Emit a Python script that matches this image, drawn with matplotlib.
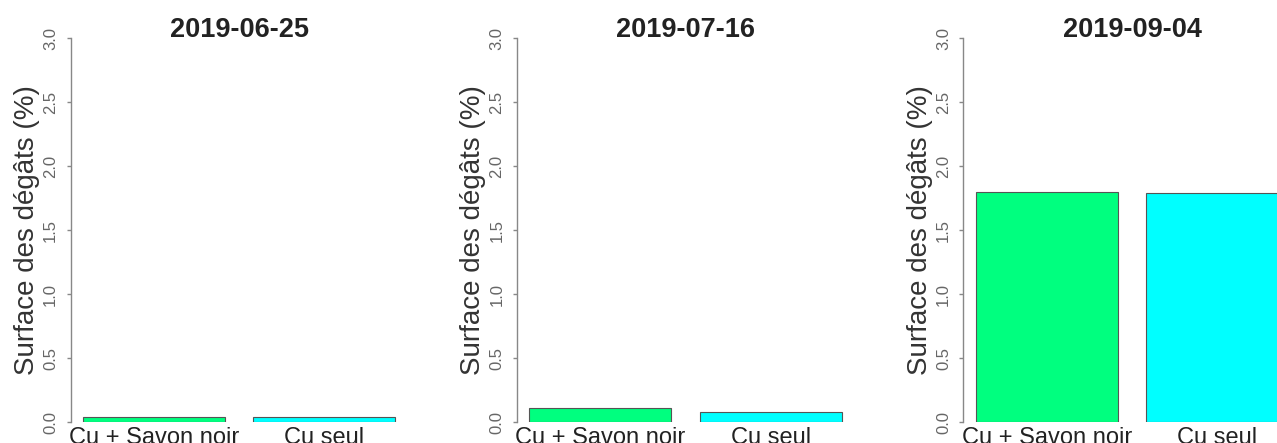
import matplotlib
matplotlib.use("Agg")
import matplotlib.pyplot as plt
import matplotlib.transforms as mtrans

plt.rcParams['font.family'] = ['Liberation Sans', 'DejaVu Sans']

dates = ["2019-06-25", "2019-07-16", "2019-09-04"]
treatments = ["Cu + Savon noir", "Cu seul"]
cu_savon = [0.04, 0.11, 1.80]
cu_seul = [0.04, 0.075, 1.79]
bar_colors = ["#00FF7F", "#00FFFF"]
y_ticks = [0.0, 0.5, 1.0, 1.5, 2.0, 2.5, 3.0]

W, H = 1277, 443
fig = plt.figure(figsize=(W / 100, H / 100), dpi=100)

# R barplot style positions: width 1, space 0.2
x_pos = [0.7, 1.9]

for i, date in enumerate(dates):
    off = 446.5 * i
    ax = fig.add_axes([(70.5 + off) / W, (H - 422) / H, 337.4 / W, 384 / H])
    vals = [cu_savon[i], cu_seul[i]]
    ax.bar(x_pos, vals, width=1.0, color=bar_colors, edgecolor="#555555", linewidth=0.8)
    ax.set_xlim(0.112, 2.488)
    ax.set_ylim(0, 3)

    for s in ["top", "right", "bottom"]:
        ax.spines[s].set_visible(False)
    ax.spines["left"].set_bounds(0, 3)
    ax.spines["left"].set_color("#888888")
    ax.spines["left"].set_linewidth(1.0)

    ax.set_xticks([])
    ax.set_yticks(y_ticks)
    ax.set_yticklabels(["%.1f" % t for t in y_ticks], rotation=90, va="center",
                       fontsize=12, color="#666666")
    ax.tick_params(axis="y", length=3, width=1.0, color="#888888", pad=6)

    ax.text(-0.130, 0.5, "Surface des dégâts (%)", transform=ax.transAxes,
            rotation=90, ha="center", va="center", fontsize=20, color="#333333")
    ax.text(0.5, 1.0026, date, transform=ax.transAxes, ha="center", va="baseline",
            fontsize=19.5, fontweight="bold", color="#222222")

    trans = mtrans.blended_transform_factory(ax.transData, ax.transAxes)
    for xp, lab in zip(x_pos, treatments):
        ax.text(xp, -0.057, lab, transform=trans, ha="center", va="baseline",
                fontsize=17, color="#222222", clip_on=False)

fig.savefig("out.png", dpi=100)
